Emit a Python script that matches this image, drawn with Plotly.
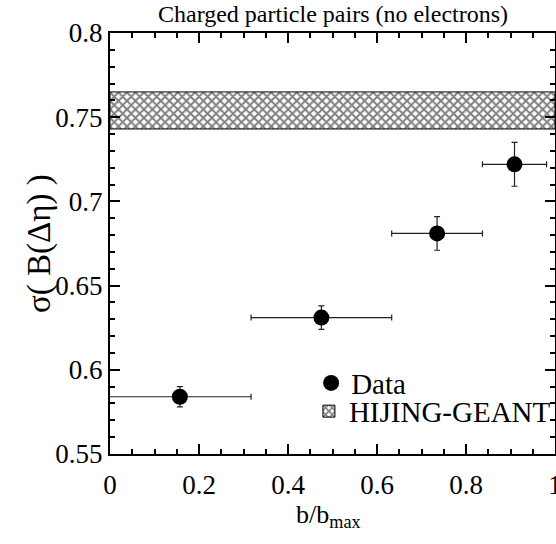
import plotly.graph_objects as go

# Data
b_over_bmax = [0.157, 0.475, 0.735, 0.909]
b_err = [0.160, 0.158, 0.102, 0.072]
sigma_B = [0.584, 0.631, 0.681, 0.722]
sigma_err = [0.006, 0.007, 0.010, 0.013]

hijing_low = 0.743
hijing_high = 0.765
x_range = [0, 1]
y_range = [0.55, 0.8]

FONT = "Liberation Serif"

fig = go.Figure()

fig.add_trace(go.Scatter(
    x=b_over_bmax, y=sigma_B, mode="markers", name="Data", legend="legend",
    marker=dict(color="black", size=16, symbol="circle"),
    error_x=dict(type="data", array=b_err, color="#222222", thickness=1.2, width=3),
    error_y=dict(type="data", array=sigma_err, color="#222222", thickness=1.2, width=3),
))

fig.add_trace(go.Bar(
    x=[(x_range[0] + x_range[1]) / 2], y=[hijing_high - hijing_low], base=[hijing_low],
    width=[x_range[1] - x_range[0]], name="HIJING-GEANT", legend="legend2",
    marker=dict(color="white", line=dict(color="black", width=1),
                pattern=dict(shape="x", size=6, solidity=0.55, fgcolor="black", bgcolor="white")),
))

axis_common = dict(
    showline=True, linecolor="black", linewidth=2, mirror="allticks",
    ticks="inside", ticklen=10, tickwidth=1.5, tickcolor="black",
    showgrid=False, zeroline=False, automargin=False, ticklabeloverflow="allow",
    tickfont=dict(family=FONT, size=27, color="black"),
)

fig.update_xaxes(range=x_range, dtick=0.2, tick0=0, ticklabelstandoff=6,
                 minor=dict(dtick=0.05, ticklen=5, ticks="inside", tickcolor="black", tickwidth=1.5),
                 **axis_common)
fig.update_yaxes(range=y_range, dtick=0.05, tick0=0.55,
                 minor=dict(dtick=0.01, ticklen=5, ticks="inside", tickcolor="black", tickwidth=1.5),
                 **axis_common)

legend_common = dict(xanchor="left", yanchor="top", bgcolor="rgba(0,0,0,0)",
                     font=dict(family=FONT, size=29, color="black"),
                     tracegroupgap=0, itemsizing="trace")

fig.update_layout(
    width=556, height=544,
    margin=dict(l=110, r=1, t=33, b=90, autoexpand=False),
    plot_bgcolor="white", paper_bgcolor="white",
    font=dict(family=FONT, color="black"),
    showlegend=True,
    legend=dict(x=0.452, y=0.229, **legend_common),
    legend2=dict(x=0.447, y=0.162, **legend_common),
    annotations=[
        dict(text="Charged particle pairs (no electrons)", xref="paper", yref="paper",
             x=0.5, y=1, yanchor="middle", yshift=19, showarrow=False,
             font=dict(family=FONT, size=24, color="black")),
        dict(text="σ( B(Δη) )", xref="paper", yref="paper", x=0, xshift=-91, y=0.5,
             textangle=-90, showarrow=False, font=dict(family=FONT, size=33, color="black")),
        dict(text="b/b<sub>max</sub>", xref="paper", yref="paper", x=0.49, y=0, yshift=-80,
             showarrow=False, font=dict(family=FONT, size=26, color="black")),
    ],
)

fig.write_html("out.html", config={"displayModeBar": False},
               post_script="document.body.style.margin='0px';")
